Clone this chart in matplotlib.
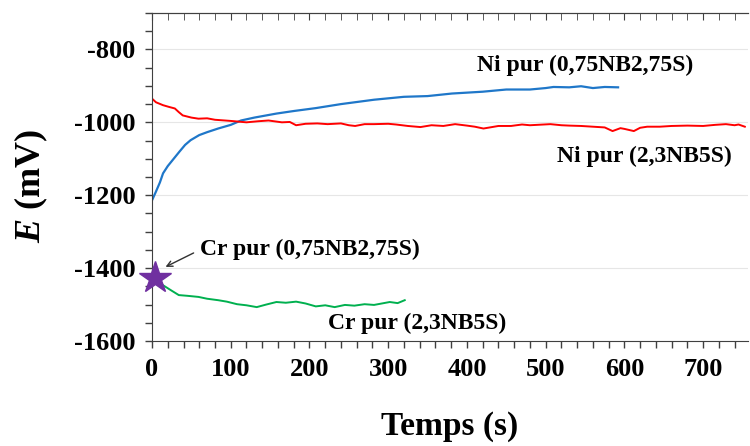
import matplotlib
matplotlib.use('Agg')
import matplotlib.pyplot as plt
from matplotlib.ticker import MultipleLocator

# Ni pur (0,75NB2,75S) - courbe bleue
t_ni1 = [0, 5, 10, 14, 20, 29, 35, 42, 49, 60, 70, 84, 100, 113, 130, 158, 180, 208, 240,
         282, 320, 350, 381, 420, 450, 480, 500, 510, 530, 545, 560, 575, 592]
E_ni1 = [-1214, -1190, -1165, -1140, -1120, -1096, -1080, -1062, -1049, -1035, -1027, -1017,
         -1007, -995, -987, -976, -969, -961, -950, -938, -930, -928, -921, -916, -910,
         -910, -906, -903, -904, -901, -906, -903, -904]

# Ni pur (2,3NB5S) - courbe rouge
t_ni2 = [0, 5, 14, 22, 29, 34, 39, 50, 59, 70, 80, 99, 120, 135, 148, 165, 175, 183, 195,
         210, 223, 240, 250, 258, 270, 282, 300, 310, 325, 341, 355, 370, 385, 400, 410,
         421, 440, 456, 470, 480, 506, 520, 530, 545, 560, 575, 585, 595, 600, 612, 620,
         629, 645, 660, 680, 700, 715, 729, 740, 745, 753]
E_ni2 = [-935, -945, -953, -958, -962, -972, -981, -987, -990, -989, -993, -996, -1000,
         -997, -995, -1000, -999, -1008, -1004, -1003, -1005, -1003, -1008, -1010, -1005,
         -1005, -1004, -1006, -1010, -1013, -1008, -1010, -1005, -1009, -1012, -1017,
         -1010, -1010, -1006, -1008, -1005, -1008, -1009, -1010, -1012, -1014, -1024,
         -1016, -1018, -1024, -1015, -1012, -1012, -1010, -1009, -1010, -1007, -1005,
         -1008, -1006, -1012]

# Cr pur (2,3NB5S) - courbe verte
t_cr2 = [4, 14, 25, 34, 45, 59, 70, 84, 95, 108, 120, 133, 145, 158, 170, 183, 195, 208,
         220, 232, 245, 257, 270, 282, 292, 302, 312, 321]
E_cr2 = [-1427, -1447, -1462, -1474, -1476, -1479, -1484, -1488, -1492, -1499, -1502,
         -1507, -1500, -1493, -1495, -1492, -1497, -1505, -1502, -1507, -1501, -1503,
         -1499, -1501, -1497, -1493, -1496, -1488]

# Cr pur (0,75NB2,75S) - point unique
t_cr1 = [4]
E_cr1 = [-1427]

police = 'Liberation Serif'
plt.rcParams['axes.unicode_minus'] = False
plt.rcParams['mathtext.fontset'] = 'custom'
plt.rcParams['mathtext.it'] = 'Liberation Serif:italic:bold'

fig = plt.figure(figsize=(7.5, 4.46), dpi=100)
ax = fig.add_axes([0.2027, 0.2354, 0.7946, 0.7355])

ax.plot(t_ni1, E_ni1, color='#1f77c9', lw=1.6)
ax.plot(t_ni2, E_ni2, color='#ff0000', lw=1.4)
ax.plot(t_cr2, E_cr2, color='#00b04f', lw=1.4)
ax.plot(t_cr1, E_cr1, marker='*', color='#7030a0', markersize=24, ls='none',
        zorder=5, clip_on=False)

ax.set_xlim(0, 757)
ax.set_ylim(-1600, -700)
ax.xaxis.set_major_locator(MultipleLocator(100))
ax.xaxis.set_minor_locator(MultipleLocator(20))
ax.yaxis.set_major_locator(MultipleLocator(200))
ax.yaxis.set_minor_locator(MultipleLocator(50))
ax.tick_params(which='both', direction='out', length=5, width=1, color='#404040')
ax.tick_params(labelsize=19, pad=7)
ax.grid(axis='y', which='major', color='#e6e6e6', lw=0.8)
ax.set_axisbelow(True)

for s in ['left', 'bottom', 'top']:
    ax.spines[s].set_color('#404040')
ax.spines['right'].set_visible(False)

# graduations du haut, vers l'intérieur
sec = ax.secondary_xaxis('top')
sec.xaxis.set_major_locator(MultipleLocator(100))
sec.xaxis.set_minor_locator(MultipleLocator(20))
sec.tick_params(which='both', direction='in', length=5, color='#404040', labeltop=False)
sec.spines['top'].set_color('#404040')

for lab in ax.get_xticklabels() + ax.get_yticklabels():
    lab.set_family(police)
    lab.set_fontweight('bold')

ax.set_xlabel('Temps (s)', family=police, fontweight='bold', fontsize=24, labelpad=22)
ax.set_ylabel('$E$ (mV)', family=police, fontweight='bold', fontsize=26)
ax.yaxis.set_label_coords(-0.172, 0.473)

txt = dict(family=police, fontweight='bold', fontsize=17, ha='left', va='center')
ax.text(413, -844, 'Ni pur (0,75NB2,75S)', **txt)
ax.text(515, -1093, 'Ni pur (2,3NB5S)', **txt)
ax.text(61, -1348, 'Cr pur (0,75NB2,75S)', **txt)
ax.text(224, -1551, 'Cr pur (2,3NB5S)', **txt)
ax.annotate('', xy=(14, -1400), xytext=(56, -1355),
            arrowprops=dict(arrowstyle='->', color='#303030', lw=1))

fig.savefig('out.png', dpi=100)
